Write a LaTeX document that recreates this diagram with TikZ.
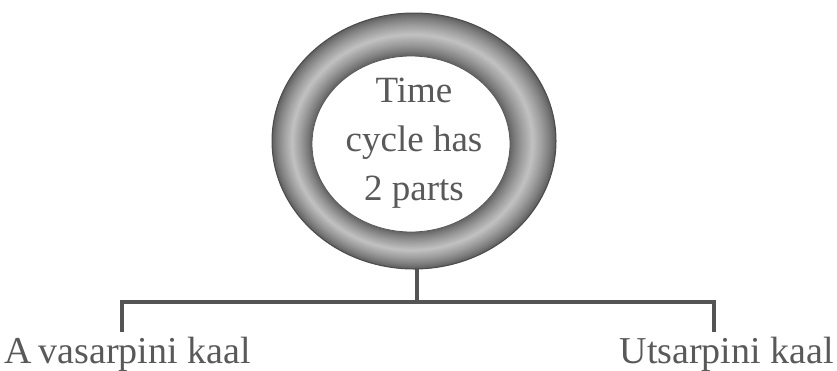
\documentclass[tikz,border=0pt]{standalone}
\usepackage{fontspec}
\setmainfont{Liberation Serif}
\usetikzlibrary{shapes.geometric}
\begin{document}
\begin{tikzpicture}[x=1pt,y=-1pt,
  conn/.style={draw=black!67, line width=3.5pt},
  lbl/.style={text=black!65, font=\fontsize{38}{44}\selectfont, inner sep=0pt},
  ctext/.style={text=black!65, font=\fontsize{37}{49}\selectfont, align=center, inner sep=0pt}]
\useasboundingbox (0,0) rectangle (837,370);
% ring
\foreach \i in {0,...,60}{
  \pgfmathsetmacro{\t}{\i/60}
  \pgfmathsetmacro{\rx}{142-\t*43}
  \pgfmathsetmacro{\ry}{128-\t*40}
  \pgfmathsetmacro{\cx}{414-\t*3}
  \pgfmathsetmacro{\cy}{141+\t*3}
  \pgfmathsetmacro{\m}{64-40*(1-abs(2*\t-1))^0.8}
  \fill[black!\m!white] (\cx,\cy) ellipse[x radius=\rx, y radius=\ry];
}
\draw[black!70, line width=1pt] (414,141) ellipse[x radius=142, y radius=128];
\node[ellipse, minimum width=198pt, minimum height=176pt, fill=white, draw=black!65, line width=0.8pt, inner sep=0pt] (core) at (411,144) {};
\node[ctext] (txt) at (414,143) {Time\\cycle has\\2 parts};
\coordinate (stem) at (417,269);
\coordinate (junc) at (417,302);
\coordinate (lend) at (122,302);
\coordinate (rend) at (714,302);
\coordinate (ltip) at (122,332);
\coordinate (rtip) at (714,332);
\draw[conn] (stem) -- (junc);
\draw[conn, line cap=butt] ([xshift=-1.75pt]lend) -- ([xshift=1.75pt]rend);
\draw[conn] ([yshift=-1.75pt]lend) -- (ltip);
\draw[conn] ([yshift=-1.75pt]rend) -- (rtip);
\node[lbl, anchor=base west] (ava) at (4,363) {A\hspace{7pt}vasarpini kaal};
\node[lbl, anchor=base east] (uts) at (834,363) {Utsarpini kaal};
\end{tikzpicture}
\end{document}
